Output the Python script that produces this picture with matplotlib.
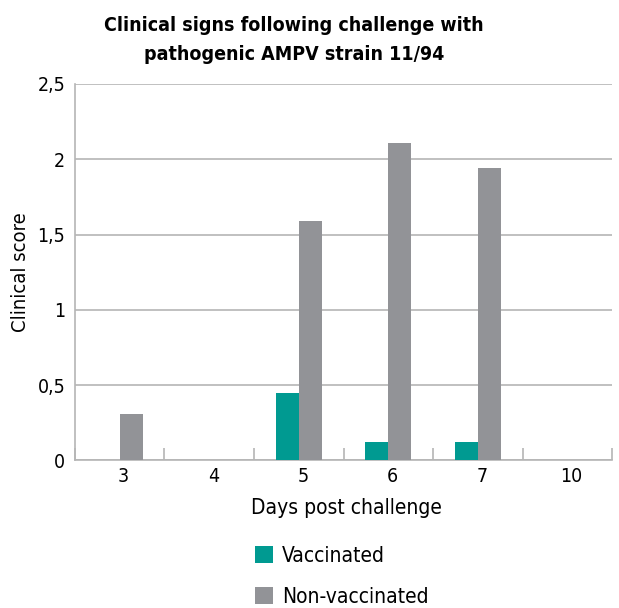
import matplotlib.pyplot as plt
import numpy as np
from matplotlib.ticker import FixedLocator, FuncFormatter
from matplotlib.transforms import ScaledTranslation

plt.rcParams['font.family'] = ['Liberation Sans Narrow', 'DejaVu Sans']
plt.rcParams['font.stretch'] = 'condensed'

days = ['3', '4', '5', '6', '7', '10']
vaccinated = [0, 0, 0.45, 0.12, 0.12, 0]
non_vaccinated = [0.31, 0, 1.59, 2.11, 1.94, 0]

teal = '#009a91'
grey = '#929397'
line_grey = '#b5b5b5'
width = 0.257

fig = plt.figure(figsize=(6.19, 6.08), dpi=100)
ax = fig.add_axes([0.121, 0.2426, 0.868, 0.6194])

x = np.arange(len(days))
ax.bar(x - width / 2, vaccinated, width, color=teal, label='Vaccinated', zorder=3)
ax.bar(x + width / 2, non_vaccinated, width, color=grey, label='Non-vaccinated', zorder=3)

ax.set_xlim(-0.5, len(days) - 0.5)
ax.set_ylim(0, 2.5)
ax.set_yticks([0, 0.5, 1, 1.5, 2, 2.5])
ax.yaxis.set_major_formatter(FuncFormatter(lambda v, p: ('%g' % v).replace('.', ',')))
ax.set_xticks(x)
ax.set_xticklabels(days)
ax.xaxis.set_minor_locator(FixedLocator(np.arange(len(days) + 1) - 0.5))
ax.tick_params(axis='x', which='major', length=0, labelsize=14, pad=5)
ax.tick_params(axis='x', which='minor', direction='in', length=8.5, color=line_grey, width=1.2)
ax.tick_params(axis='y', length=0, labelsize=14, pad=7)
shift = ScaledTranslation(4 / 100, 0, fig.dpi_scale_trans)
for lab in ax.get_xticklabels():
    lab.set_transform(lab.get_transform() + shift)

ax.grid(axis='y', color=line_grey, linewidth=1.2, zorder=0)
for s in ['top', 'right']:
    ax.spines[s].set_visible(False)
for s in ['left', 'bottom']:
    ax.spines[s].set_color(line_grey)
    ax.spines[s].set_linewidth(1.2)

ax.set_ylabel('Clinical score', fontsize=14.5, labelpad=5)
ax.set_xlabel('Days post challenge', fontsize=15, labelpad=8)
ax.xaxis.label.set_x(0.5 + 3 / 537)

fig.text(294 / 619, 1 - 40 / 608, 'Clinical signs following challenge with\npathogenic AMPV strain 11/94',
         ha='center', va='center', fontsize=14, fontweight='bold', linespacing=1.7)

fig.legend(loc='upper left', bbox_to_anchor=(255 / 619, 1 - 546 / 608), frameon=False,
           fontsize=15, handlelength=0.85, handleheight=0.85, handletextpad=0.45,
           labelspacing=1.0, borderpad=0, borderaxespad=0)

fig.savefig('out.png', dpi=100)
